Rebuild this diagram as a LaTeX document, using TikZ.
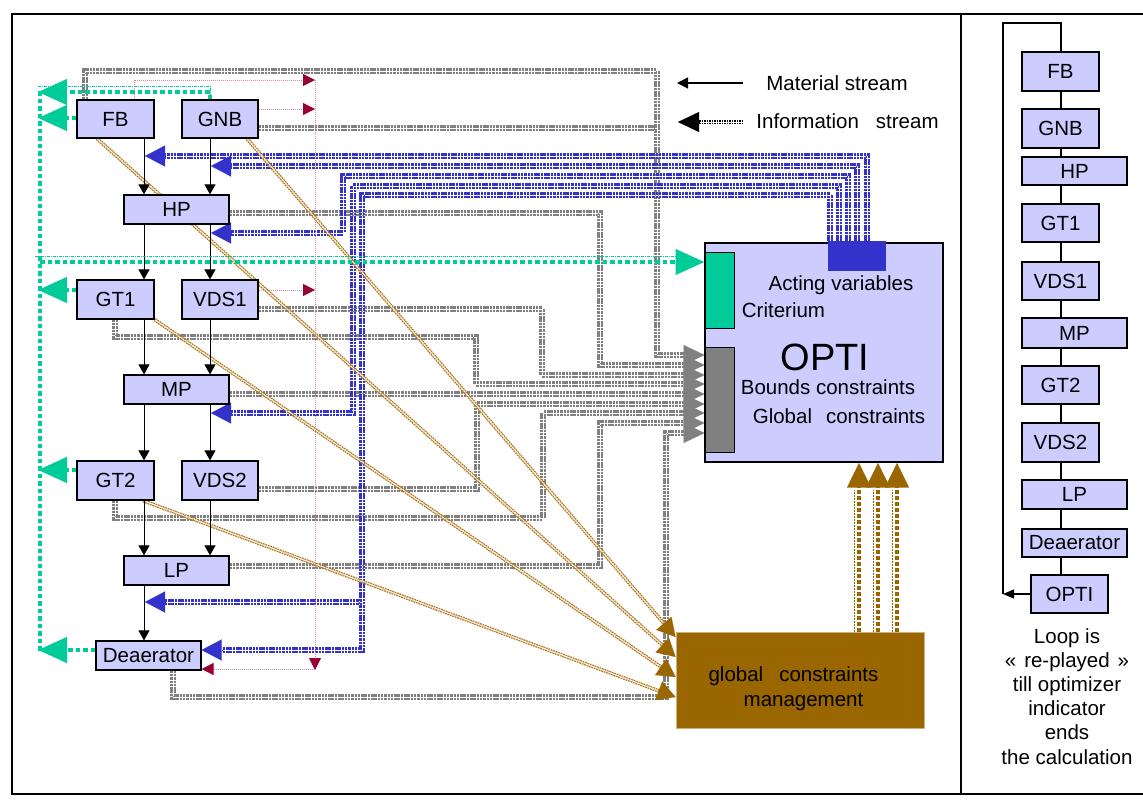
\documentclass[tikz,border=0pt]{standalone}
\usepackage{fontspec}
\setmainfont{Liberation Sans}
\usetikzlibrary{arrows.meta,calc}
\pgfdeclarelayer{bg}
\pgfsetlayers{bg,main}
\definecolor{lav}{HTML}{CCCCFF}
\definecolor{grn}{HTML}{00CC99}
\definecolor{gry}{HTML}{808080}
\definecolor{blu}{HTML}{3333CC}
\definecolor{brnbox}{HTML}{996600}
\definecolor{brnline}{HTML}{B07A20}
\definecolor{redhead}{HTML}{990033}
\definecolor{redline}{HTML}{D9869A}
\definecolor{gcmedge}{HTML}{D0B080}
\begin{document}
\begin{tikzpicture}[x=1pt,y=-1pt,
  box/.style={draw=black, fill=lav, line width=1.2pt, inner sep=0pt, font=\fontsize{20.5}{24}\selectfont},
  txt/.style={inner sep=0pt, font=\fontsize{20.5}{24}\selectfont},
  frame/.style={draw=black, line width=1.4pt},
  mat/.style={draw=black, line width=1pt, -{Triangle[length=10pt,width=11pt]}},
  kline/.style={draw=black, line width=1.2pt},
  ginfo/.style={draw=gry, double=white, line width=2.1pt, double distance=0.9pt, dash pattern=on 2.5pt off 0.8pt},
  gtip/.style={draw=gry, line width=0.1pt, -{Triangle[length=21pt,width=20pt,color=gry]}},
  binfo/.style={draw=blu, double=white, line width=2.1pt, double distance=0.9pt, dash pattern=on 2.5pt off 0.8pt},
  btip/.style={draw=blu, line width=0.1pt, -{Triangle[length=20pt,width=21pt,color=blu]}},
  dline/.style={draw=brnline, double=white, line width=1.3pt, double distance=1pt, dash pattern=on 1.8pt off 0.8pt, shorten >=14pt},
  dtip/.style={draw=brnbox, line width=0.1pt, -{Triangle[length=18pt,width=20pt,color=brnbox]}},
  rline/.style={draw=redline, line width=0.8pt, dash pattern=on 1pt off 1pt, -{Triangle[length=12pt,width=12pt,color=redhead]}},
  gline/.style={draw=grn, line width=4.4pt, dash pattern=on 4.5pt off 3pt},
  gthin/.style={draw=grn, line width=0.9pt, dash pattern=on 3pt off 1pt on 1pt off 1pt},
  garrow/.style={-{Triangle[length=29pt,width=25pt]}},
  bvl/.style={draw=brnbox, line width=4.4pt, dash pattern=on 4pt off 2pt, -{Triangle[length=25pt,width=23pt]}},
  bthin/.style={draw=brnbox, line width=0.8pt, dash pattern=on 2pt off 1pt},
  kinfo/.style={draw=black, double=white, line width=1.3pt, double distance=1pt, dash pattern=on 1.5pt off 1pt},
  ktip/.style={draw=black, line width=0.1pt, -{Triangle[length=21pt,width=20pt]}},
  looparrow/.style={draw=black, line width=1.2pt, -{Triangle[length=11pt,width=9pt]}}
]
\useasboundingbox (0,0) rectangle (1143,801);
% frame
\draw[frame] (1143,14) -- (12,14) -- (12,794) -- (1143,794);
\draw[frame] (961,14) -- (961,794);

% ---------- left blocks ----------
\node[box, minimum width=77pt, minimum height=38pt] (FB) at (115.5,119) {FB};
\node[box, minimum width=76pt, minimum height=38pt] (GNB) at (220,119) {GNB};
\node[box, minimum width=105pt, minimum height=29pt] (HP) at (176.5,209.5) {HP};
\node[box, minimum width=77pt, minimum height=39pt] (GT1) at (115.5,299.5) {GT1};
\node[box, minimum width=76pt, minimum height=39pt] (VDS1) at (220,299.5) {VDS1};
\node[box, minimum width=105pt, minimum height=29pt] (MP) at (176.5,389.5) {MP};
\node[box, minimum width=77pt, minimum height=39pt] (GT2) at (115.5,480.5) {GT2};
\node[box, minimum width=76pt, minimum height=39pt] (VDS2) at (220,480.5) {VDS2};
\node[box, minimum width=105pt, minimum height=29pt] (LP) at (176.5,570.5) {LP};
\node[box, minimum width=105pt, minimum height=29pt] (Dea) at (148.5,655.5) {Deaerator};

% ---------- OPTI ----------
\node[box, minimum width=238pt, minimum height=219pt] (OPTI) at (824,352.5) {};
\node[draw=black, fill=grn, line width=1pt, minimum width=29pt, minimum height=76pt, inner sep=0pt] (crit) at (719.5,290) {};
\node[draw=black, fill=gry, line width=1pt, minimum width=29pt, minimum height=105pt, inner sep=0pt] (bnd) at (719.5,399.5) {};
\node[fill=blu, minimum width=58pt, minimum height=30pt, inner sep=0pt] (act) at (857,256) {};
\node[txt, anchor=base] (tact) at (841,290) {Acting variables};
\node[txt, anchor=base] (tcrit) at (783.5,317) {Criterium};
\node[inner sep=0pt, anchor=base, font=\fontsize{38}{40}\selectfont] (topti) at (825,370) {OPTI};
\node[txt, anchor=base] (tbnd) at (828,394) {Bounds constraints};
\node[txt, anchor=base] (tglb) at (839,423) {Global\hspace{14pt}constraints};

% ---------- global constraints management ----------
\node[draw=gcmedge, fill=brnbox, line width=0.8pt, minimum width=248pt, minimum height=96pt, inner sep=0pt] (gcm) at (800,680) {};
\node[txt, anchor=base] (tg1) at (793.5,681) {global\hspace{16pt}constraints};
\node[txt, anchor=base] (tg2) at (803.5,706) {management};

% ---------- legend ----------
\coordinate (lm1) at (743,83);
\coordinate (lm2) at (677,83);
\coordinate (li1) at (743,122);
\coordinate (li2) at (699,122);
\coordinate (li3) at (678,122);
\node[txt, anchor=base] (lmat) at (837,90) {Material stream};
\node[txt, anchor=base] (linf) at (847.5,128) {Information\hspace{17pt}stream};
\draw[draw=black, line width=1.2pt, -{Triangle[length=11pt,width=11pt]}] (lm1) -- (lm2);
\draw[kinfo] (li1) -- (li2);
\draw[ktip] (li2) -- (li3);

% ---------- right panel ----------
\node[box, minimum width=77pt, minimum height=39pt] (rFB) at (1060.5,71.5) {FB};
\node[box, minimum width=77pt, minimum height=39pt] (rGNB) at (1060.5,128.5) {GNB};
\node[box, minimum width=105pt, minimum height=28pt] (rHP) at (1074.5,171) {HP};
\node[box, minimum width=77pt, minimum height=38pt] (rGT1) at (1060.5,223) {GT1};
\node[box, minimum width=77pt, minimum height=38pt] (rVDS1) at (1060.5,281) {VDS1};
\node[box, minimum width=105pt, minimum height=30pt] (rMP) at (1074.5,333) {MP};
\node[box, minimum width=77pt, minimum height=38pt] (rGT2) at (1060.5,385) {GT2};
\node[box, minimum width=77pt, minimum height=39pt] (rVDS2) at (1060.5,442.5) {VDS2};
\node[box, minimum width=105pt, minimum height=29pt] (rLP) at (1074.5,494.5) {LP};
\node[box, minimum width=105pt, minimum height=28pt] (rDea) at (1074.5,543) {Deaerator};
\node[box, minimum width=77pt, minimum height=38pt] (rOPTI) at (1069.5,594) {OPTI};
\coordinate (rx) at (1061,0);
\coordinate (rtop) at (1061,23);
\coordinate (rloop) at (1003,594);
\node[txt, anchor=base] (n1) at (1067,643) {Loop is};
\node[txt, anchor=base] (n2) at (1067,667) {«\hspace{8pt}re-played\hspace{8pt}»};
\node[txt, anchor=base] (n3) at (1067,691) {till optimizer};
\node[txt, anchor=base] (n4) at (1067,715) {indicator};
\node[txt, anchor=base] (n5) at (1067,739) {ends};
\node[txt, anchor=base] (n6) at (1067,764) {the calculation};

\begin{pgfonlayer}{bg}
% right panel loop
\draw[kline] (rloop) |- (rtop) -- (rOPTI.north -| rx);
\draw[looparrow] (rOPTI.west) -- (rloop);

% gray information lines to bounds constraints
\draw[ginfo] (FB.north -| 85,0) -- (85,71) -| (657,355) -- (684,355);
\draw[ginfo] (GNB.east |- 0,128) -- (657,128);
\draw[ginfo] (HP.east |- 0,213) -| (600,365) -- (684,365);
\draw[ginfo] (VDS1.east |- 0,309) -| (542,375) -- (684,375);
\draw[ginfo] (GT1.south -| 115,0) |- (476,337) -- (476,384) -- (684,384);
\draw[ginfo] (MP.east |- 0,394) -- (684,394);
\draw[ginfo] (VDS2.east |- 0,489) -| (477,404) -- (684,404);
\draw[ginfo] (GT2.south -| 115,0) |- (543,518) |- (684,413);
\draw[ginfo] (LP.east |- 0,566) -| (600,423) -- (684,423);
\draw[ginfo] (Dea.south -| 173,0) |- (666,697) |- (684,433);
\foreach \y in {355,365,375,384,394,404,413,423,433}
  \draw[gtip] (684,\y) -- (bnd.west |- 0,\y);

% blue information lines from acting variables
\draw[binfo] (act.north -| 867,0) |- (165,156);
\draw[binfo] (act.north -| 857,0) |- (231,166);
\draw[binfo] (act.north -| 848,0) |- (343,176) |- (231,233);
\draw[binfo] (act.north -| 839,0) |- (353,186) |- (231,413);
\draw[binfo] (act.north -| 830,0) |- (362,195) |- (222,650);
\draw[binfo] (362,602) -- (165,602);

% brown diagonal lines to global constraints management
\draw[dline] (GNB.south -| 247,0) -- (gcm.west |- 0,637);
\draw[dline] (FB.south -| 97,0) -- (gcm.west |- 0,657);
\draw[dline] (GT1.south east) -- (gcm.west |- 0,677);
\draw[dline] (GT2.south -| 143,0) -- (gcm.west |- 0,697);
\draw[dtip] ($(gcm.west |- 0,637)!20pt!(GNB.south -| 247,0)$) -- (gcm.west |- 0,637);
\draw[dtip] ($(gcm.west |- 0,657)!20pt!(FB.south -| 97,0)$) -- (gcm.west |- 0,657);
\draw[dtip] ($(gcm.west |- 0,677)!20pt!(GT1.south east)$) -- (gcm.west |- 0,677);
\draw[dtip] ($(gcm.west |- 0,697)!20pt!(GT2.south -| 143,0)$) -- (gcm.west |- 0,697);

% brown vertical arrows to OPTI
\foreach \x in {858,877,896} {
  \draw[bthin] (gcm.north -| \x-4,0) -- (\x-4,490);
  \draw[bvl] (gcm.north -| \x+1,0) -- (OPTI.south -| \x+1,0);
}

% red lines
\draw[rline] (FB.north -| 134,0) |- (315,80);
\draw[rline] (GNB.east |- 0,109) -- (315,109);
\draw[rline] (VDS1.east |- 0,290) -- (315,290);
\draw[rline] (315,80) -- (315,670);
\draw[rline] (315,669) -- (Dea.east |- 0,669);

% material stream
\coordinate (xa) at (144,0);
\coordinate (xb) at (210,0);
\draw[mat] (FB.south -| xa) -- (HP.north -| xa);
\draw[mat] (GNB.south -| xb) -- (HP.north -| xb);
\draw[mat] (HP.south -| xa) -- (GT1.north -| xa);
\draw[mat] (HP.south -| xb) -- (VDS1.north -| xb);
\draw[mat] (GT1.south -| xa) -- (MP.north -| xa);
\draw[mat] (VDS1.south -| xb) -- (MP.north -| xb);
\draw[mat] (MP.south -| xa) -- (GT2.north -| xa);
\draw[mat] (MP.south -| xb) -- (VDS2.north -| xb);
\draw[mat] (GT2.south -| xa) -- (LP.north -| xa);
\draw[mat] (VDS2.south -| xb) -- (LP.north -| xb);
\draw[mat] (LP.south -| xa) -- (Dea.north -| xa);

% blue arrow heads
\draw[btip] (165,156) -- (145,156);
\draw[btip] (231,166) -- (211,166);
\draw[btip] (231,233) -- (211,233);
\draw[btip] (231,413) -- (211,413);
\draw[btip] (222,650) -- (Dea.east |- 0,650);
\draw[btip] (165,602) -- (145,602);

% green criterium lines
\draw[gthin] (38,86) -- (210,86) -- (GNB.north -| 210,0);
\draw[gthin] (35,256) -- (680,256);
\draw[gline] (40,91) -- (40,653);
\draw[gline, garrow] (GNB.north -| 210,0) -- (210,92) -- (38,92);
\draw[gline, garrow] (FB.west |- 0,118) -- (38,118);
\draw[gline, garrow] (GT1.west |- 0,290) -- (38,290);
\draw[gline, garrow] (GT2.west |- 0,470) -- (38,470);
\draw[gline, garrow] (Dea.west |- 0,650) -- (38,650);
\draw[gline, garrow] (40,262) -- (crit.west |- 0,262);
\end{pgfonlayer}
\end{tikzpicture}
\end{document}
